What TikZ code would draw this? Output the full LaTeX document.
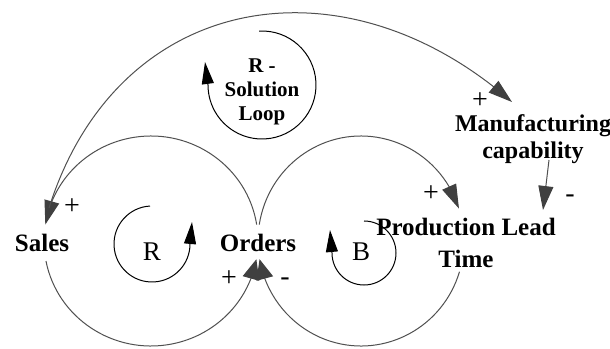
\documentclass[tikz,border=0pt]{standalone}
\usepackage{fontspec}
\setmainfont{Liberation Serif}
\usetikzlibrary{arrows.meta,bending}
\definecolor{linkgray}{HTML}{505050}
\definecolor{tipgray}{HTML}{404040}
\tikzset{
  link/.style={draw=linkgray, line width=1pt},
  bigtip/.style={-{Triangle[length=24pt,width=15pt,color=tipgray,fill=tipgray]}},
  ordtip/.style={-{Triangle[length=20pt,width=17pt,color=tipgray,fill=tipgray]}},
  loopline/.style={draw=black, line width=1pt, -{Triangle[length=22pt,width=12pt]}},
  lbl/.style={font=\bfseries\fontsize{25}{32}\selectfont, inner sep=0pt, align=center},
  sgn/.style={font=\fontsize{28}{28}\selectfont, inner sep=0pt},
  loopname/.style={font=\fontsize{27}{27}\selectfont, inner sep=0pt}
}
\begin{document}
\begin{tikzpicture}[x=1pt,y=1pt]
\useasboundingbox[fill=white] (0,0) rectangle (610,348);
% centres of the two big loops
\coordinate (LC) at (151,107);
\coordinate (RC) at (361,107);
% text nodes
\node[lbl, anchor=base] (sales) at (42,96) {Sales};
\node[lbl, anchor=base] (orders) at (258,96) {Orders};
\node[lbl] (plt) at (466,104.6) {Production Lead\\Time};
\node[lbl, font=\bfseries\fontsize{24}{27}\selectfont] (mc) at (533,209) {Manufacturing\\capability};
\node[lbl, font=\bfseries\fontsize{21}{24}\selectfont] (rsl) at (262,256.6) {R -\\Solution\\Loop};
\node[loopname, anchor=base] (rname) at (152,87) {R};
\node[loopname, anchor=base] (bname) at (361,87) {B};
% connector end points
\path (LC) ++(9:107 and 105) coordinate (oTopL);
\path (LC) ++(191:107 and 105) coordinate (sBot);
\path (RC) ++(171:103 and 105) coordinate (oTopR);
\path (RC) ++(-17:103 and 105) coordinate (pBot);
\coordinate (sUp) at (49,140);
\coordinate (mIn) at (512,246);
\coordinate (mOut) at (549,188);
\coordinate (pIn) at (543,138);
% causal links
\draw[link, bigtip] (oTopL) arc[start angle=9, end angle=171, x radius=107, y radius=105];
\draw[link, ordtip] (sBot) arc[start angle=191, end angle=350, x radius=107, y radius=105];
\draw[link, bigtip] (oTopR) arc[start angle=171, end angle=18, x radius=103, y radius=105];
\draw[link, ordtip] (pBot) arc[start angle=-17, end angle=-170, x radius=103, y radius=105];
\draw[link, bigtip] (sUp) .. controls (117.5,356.75) and (343,394.5) .. (mIn);
\draw[link, bigtip] (mOut) -- (pIn);
% loop markers
\path (262,263) ++(93:54) coordinate (rsStart);
\coordinate (rsTip) at (205,286);
\draw[loopline] (rsStart) arc[start angle=93, end angle=-180, radius=54] -- (rsTip);
\path (152,104) ++(93:38) coordinate (rStart);
\coordinate (rTip) at (192,126);
\draw[loopline] (rStart) arc[start angle=93, end angle=360, radius=38] -- (rTip);
\path (364,95) ++(90:32) coordinate (bStart);
\coordinate (bTip) at (330,118);
\draw[loopline] (bStart) arc[start angle=90, end angle=-180, radius=32] -- (bTip);
% polarity signs
\node[sgn] (p1) at (72,141) {+};
\node[sgn] (p2) at (229,69) {+};
\node[sgn] (m1) at (285,66) {-};
\node[sgn] (p3) at (431,154) {+};
\node[sgn] (m2) at (570,149) {-};
\node[sgn] (p4) at (480,247) {+};
\end{tikzpicture}
\end{document}
